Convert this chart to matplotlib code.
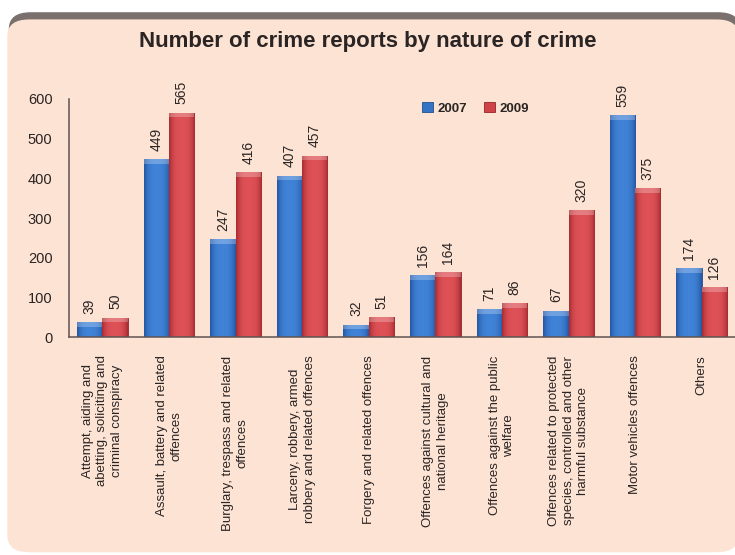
import matplotlib.pyplot as plt
import numpy as np
from matplotlib.patches import FancyBboxPatch

categories = [
    "Attempt, aiding and\nabetting, soliciting and\ncriminal conspiracy",
    "Assault, battery and related\noffences",
    "Burglary, trespass and related\noffences",
    "Larceny, robbery, armed\nrobbery and related offences",
    "Forgery and related offences",
    "Offences against cultural and\nnational heritage",
    "Offences against the public\nwelfare",
    "Offences related to protected\nspecies, controlled and other\nharmful substance",
    "Motor vehicles offences",
    "Others",
]
y2007 = [39, 449, 247, 407, 32, 156, 71, 67, 559, 174]
y2009 = [50, 565, 416, 457, 51, 164, 86, 320, 375, 126]
yticks = [0, 100, 200, 300, 400, 500, 600]

plt.rcParams['font.family'] = ['Liberation Sans', 'DejaVu Sans']
bg = '#fde3d3'
txt = '#2a2424'

fig = plt.figure(figsize=(7.35, 5.55), dpi=100)
fig.patch.set_facecolor('white')

# frame with a grey shadow on top
shadow = FancyBboxPatch((0.012, 0.5), 0.995, 0.478, boxstyle='round,pad=0,rounding_size=0.03',
                        transform=fig.transFigure, facecolor='#7a716e', edgecolor='none', zorder=-2)
frame = FancyBboxPatch((0.010, 0.005), 0.995, 0.96, boxstyle='round,pad=0,rounding_size=0.03',
                       transform=fig.transFigure, facecolor=bg, edgecolor='none', zorder=-1)
fig.add_artist(shadow)
fig.add_artist(frame)

ax = fig.add_axes([0.094, 0.392, 0.906, 0.43])
ax.set_facecolor('none')
ax.set_zorder(1)

x = np.arange(len(categories))
w = 0.38
b1 = ax.bar(x - w / 2, y2007, w, color='#3574c2', edgecolor='#1f4f8f', linewidth=0.6, label='2007')
b2 = ax.bar(x + w / 2, y2009, w, color='#cf4246', edgecolor='#92262a', linewidth=0.6, label='2009')

# simple shading on the bars
def shade(bars, light, dark):
    for p in bars:
        x0, y0 = p.get_x(), p.get_y()
        bw, bh = p.get_width(), p.get_height()
        g = np.abs(np.linspace(-1, 1, 50)) ** 3
        cols = np.array([light]) * (1 - g[:, None]) + np.array([dark]) * g[:, None]
        img = np.tile(cols[None, :, :], (2, 1, 1))
        im = ax.imshow(img, extent=[x0, x0 + bw, y0, y0 + bh], aspect='auto', zorder=2)
        im.set_clip_path(p)
        cap = min(12, bh * 0.4)
        ax.fill_between([x0, x0 + bw], y0 + bh - cap, y0 + bh, color='white', alpha=0.25,
                        linewidth=0, zorder=3)

shade(b1, (0.25, 0.51, 0.84), (0.14, 0.34, 0.64))
shade(b2, (0.87, 0.32, 0.34), (0.66, 0.17, 0.19))

for bars in (b1, b2):
    ax.bar_label(bars, padding=6, rotation=90, fontsize=10, color=txt)

ax.set_xlim(-0.5, len(categories) - 0.5)
ax.set_ylim(0, 600)
ax.set_yticks(yticks)
ax.set_xticks(x)
ax.set_xticklabels(categories, rotation=90, ha='center', va='top', fontsize=9.5,
                   color=txt, linespacing=1.3, multialignment='center')
ax.tick_params(axis='x', length=0, pad=13)
ax.tick_params(axis='y', length=0, pad=12, labelsize=10.5, labelcolor=txt)
for s in ('top', 'right'):
    ax.spines[s].set_visible(False)
for s in ('left', 'bottom'):
    ax.spines[s].set_color('#5e5353')
    ax.spines[s].set_linewidth(1.1)

fig.text(0.5, 0.925, 'Number of crime reports by nature of crime', ha='center', va='center',
         fontsize=16, fontweight='bold', color=txt)

leg = fig.legend(handles=[b1, b2], loc='center left', bbox_to_anchor=(0.558, 0.805), ncol=2,
                 frameon=False, handlelength=0.85, handleheight=0.85, handletextpad=0.3,
                 columnspacing=1.3, prop={'weight': 'bold', 'size': 9.5})
for t in leg.get_texts():
    t.set_color(txt)

fig.savefig('out.png', dpi=100, facecolor=fig.get_facecolor())
